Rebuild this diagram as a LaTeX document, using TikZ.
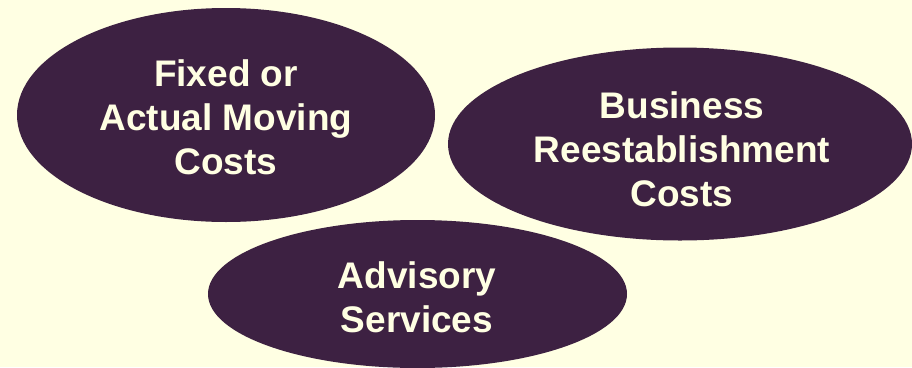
\documentclass[tikz,border=0pt]{standalone}
\usepackage{fontspec}
\setmainfont{Liberation Sans}
\usetikzlibrary{shapes.geometric}
\definecolor{bgcream}{HTML}{FFFFE3}
\definecolor{plum}{HTML}{3D2142}
\definecolor{labelcream}{HTML}{FFFFE3}
\tikzset{
  bubble/.style={ellipse, fill=plum, draw=none, inner sep=0pt,
    text=labelcream, align=center,
    font=\fontsize{37}{44}\selectfont\bfseries},
}
\begin{document}
\begin{tikzpicture}[x=1pt,y=-1pt]
  \fill[bgcream] (0,0) rectangle (912,367);
  \useasboundingbox (0,0) rectangle (912,367);
  \begin{scope}
    \clip (0,0) rectangle (912,367);
    \node[bubble, minimum width=418pt, minimum height=214pt] (moving) at (226,115) {};
    \node[bubble, minimum width=464pt, minimum height=193pt] (reest) at (680,144) {};
    \node[bubble, minimum width=419pt, minimum height=148pt] (advisory) at (417.5,294) {};
  \end{scope}
  \node[bubble, fill=none] (movingtxt) at (226,117) {Fixed or\\Actual Moving\\Costs};
  \node[bubble, fill=none] (reesttxt) at (682,149) {Business\\Reestablishment\\Costs};
  \node[bubble, fill=none] (advisorytxt) at (417,297) {Advisory\\Services};
\end{tikzpicture}
\end{document}
